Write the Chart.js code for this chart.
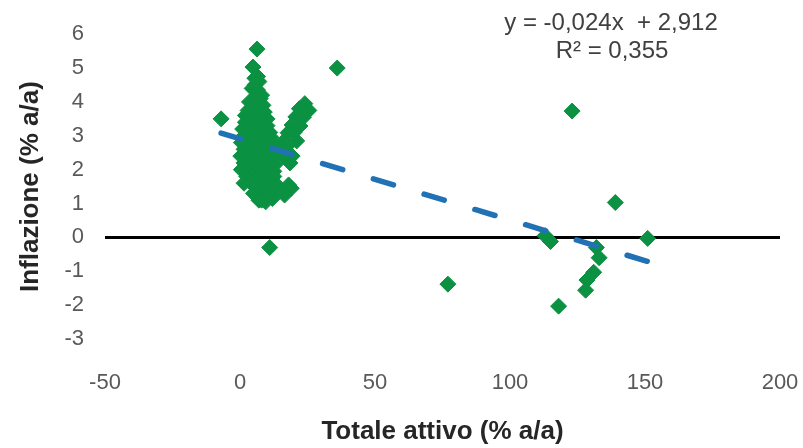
<!DOCTYPE html>
<html lang="it">
<head>
  <meta charset="UTF-8" />
  <title>Inflazione vs Totale attivo</title>
  <style>
    body {
      margin: 0;
      background: #fff;
    }
    .wrap {
      width: 803px;
      height: 448px;
    }
  </style>
</head>
<body>
  <div class="wrap"><canvas id="scatterChart" width="803" height="448"></canvas></div>

  <script src="https://cdn.jsdelivr.net/npm/chart.js"></script>
  <script>
    // Totale attivo (% a/a) -> x, Inflazione (% a/a) -> y
    const attivo = [
      // outliers
      -7, 36, 11, 123, 139, 151, 77, 118, 113, 115, 132, 133, 131, 128.5, 128,
      // cluster body
      6.3, 4.8, 6.5, 5.5, 7,
      4.5, 6.5, 8, 5.5,
      3.5, 5, 6.5, 8.5, 4, 7.5,
      2, 4, 6, 8, 10, 3, 5, 7, 9,
      1, 3, 5, 7, 9, 11, 2, 4, 6, 8, 10,
      0.5, 2.5, 4.5, 6.5, 8.5, 10.5, 12.5, 1.5, 3.5, 5.5, 7.5, 9.5, 11.5,
      0.3, 2.5, 4.5, 6.5, 8.5, 10.5, 12.5, 14, 1.5, 3.5, 5.5, 7.5, 9.5, 11.5, 13.5,
      0.5, 2.5, 4.5, 6.5, 8.5, 10.5, 12.5, 1.5, 3.5, 5.5, 7.5, 9.5, 11.5, 13,
      1.5, 3.5, 5.5, 7.5, 9.5, 11.5, 13, 2.5, 4.5, 6.5, 8.5, 10.5, 12.5,
      5, 7, 9, 11, 6, 8, 10, 12.5,
      7, 9.5, 12, 8,
      16.5, 19, 18, 15,
      // right arm
      24, 25.5, 22, 20.7, 19.3, 17.8, 16.3, 14.8, 22.2, 21, 19.3, 18.5, 23.5, 20, 17.5, 16
    ];
    const inflazione = [
      3.5, 5.0, -0.3, 3.73, 1.03, -0.03, -1.38, -2.03, 0.05, -0.12, -0.3, -0.6, -1.03, -1.26, -1.56,
      5.56, 5.03, 4.75, 4.7, 4.6,
      4.4, 4.35, 4.2, 4.5,
      4.0, 4.05, 3.95, 3.9, 3.8, 4.1,
      3.6, 3.65, 3.55, 3.6, 3.5, 3.75, 3.8, 3.7, 3.7,
      3.2, 3.25, 3.1, 3.2, 3.15, 3.1, 3.4, 3.45, 3.35, 3.4, 3.3,
      2.8, 2.85, 2.75, 2.8, 2.7, 2.8, 2.7, 3.0, 3.0, 2.95, 3.0, 2.95, 2.95,
      2.4, 2.45, 2.35, 2.4, 2.3, 2.4, 2.35, 2.5, 2.6, 2.6, 2.55, 2.6, 2.55, 2.6, 2.6,
      2.0, 2.05, 1.95, 2.0, 1.9, 2.0, 1.95, 2.2, 2.2, 2.15, 2.2, 2.15, 2.2, 2.15,
      1.6, 1.65, 1.55, 1.6, 1.5, 1.6, 1.6, 1.8, 1.8, 1.75, 1.8, 1.75, 1.8,
      1.3, 1.25, 1.3, 1.2, 1.45, 1.4, 1.4, 1.35,
      1.1, 1.05, 1.15, 1.1,
      1.25, 1.45, 1.55, 1.4,
      3.95, 3.75, 3.8, 3.56, 3.32, 3.09, 2.85, 2.6, 3.29, 2.85, 2.4, 2.2, 3.55, 3.1, 2.7, 2.4
    ];

    // linear trend y = -0,024x + 2,912, from min to max x
    const trendX = [-7, 151];
    const trendY = [3.08, -0.71];

    const xTicks = [-50, 0, 50, 100, 150, 200];
    const yTicks = [-3, -2, -1, 0, 1, 2, 3, 4, 5, 6];

    const points = attivo.map((x, i) => ({ x: x, y: inflazione[i] }));
    const trend = trendX.map((x, i) => ({ x: x, y: trendY[i] }));
    const zeroLine = [{ x: xTicks[0], y: 0 }, { x: xTicks[xTicks.length - 1], y: 0 }];

    const equationLabel = {
      id: 'equationLabel',
      afterDraw(chart) {
        const ctx = chart.ctx;
        ctx.save();
        ctx.fillStyle = '#404040';
        ctx.font = '24px "Liberation Sans", Arial, sans-serif';
        ctx.textAlign = 'center';
        ctx.textBaseline = 'middle';
        ctx.fillText('y = -0,024x  + 2,912', 611, 23);
        ctx.fillText('R² = 0,355', 612, 51);
        ctx.restore();
      }
    };

    const ctx = document.getElementById('scatterChart').getContext('2d');
    new Chart(ctx, {
      type: 'scatter',
      data: {
        datasets: [
          {
            label: 'Lineare',
            type: 'line',
            data: trend,
            borderColor: '#2171b5',
            borderWidth: 5.5,
            borderDash: [21, 32],
            borderCapStyle: 'round',
            pointRadius: 0,
            fill: false,
            order: 0
          },
          {
            label: 'Dati',
            data: points,
            pointStyle: 'rectRot',
            pointRadius: 8,
            backgroundColor: '#0b9142',
            borderColor: '#0b9142',
            borderWidth: 1,
            order: 1
          },
          {
            label: 'zero',
            type: 'line',
            data: zeroLine,
            borderColor: '#000',
            borderWidth: 3,
            pointRadius: 0,
            fill: false,
            order: 2
          }
        ]
      },
      options: {
        responsive: false,
        animation: false,
        layout: {
          padding: { top: 33, right: 23, bottom: 0, left: 0 }
        },
        plugins: {
          legend: { display: false },
          tooltip: { enabled: false }
        },
        scales: {
          x: {
            type: 'linear',
            min: -50,
            max: 200,
            afterBuildTicks: (scale) => { scale.ticks = xTicks.map(v => ({ value: v })); },
            afterFit: (scale) => {
              scale.height = 109;
              scale.paddingLeft = 0;
              scale.paddingRight = 0;
            },
            grid: { display: false, drawTicks: false },
            border: { display: false },
            ticks: {
              padding: 31,
              color: '#595959',
              font: { family: '"Liberation Sans", Arial, sans-serif', size: 22 }
            },
            title: {
              display: true,
              text: 'Totale attivo (% a/a)',
              color: '#262626',
              padding: { top: 0, bottom: 1 },
              font: { family: '"Liberation Sans", Arial, sans-serif', size: 26, weight: 'bold' }
            }
          },
          y: {
            min: -3,
            max: 6,
            afterBuildTicks: (scale) => { scale.ticks = yTicks.map(v => ({ value: v })); },
            afterFit: (scale) => { scale.width = 105; },
            grid: { display: false, drawTicks: false },
            border: { display: false },
            ticks: {
              padding: 21,
              color: '#595959',
              font: { family: '"Liberation Sans", Arial, sans-serif', size: 22 }
            },
            title: {
              display: true,
              text: 'Inflazione (% a/a)',
              color: '#262626',
              padding: { top: 15, bottom: 15 },
              font: { family: '"Liberation Sans", Arial, sans-serif', size: 26, weight: 'bold' }
            }
          }
        }
      },
      plugins: [equationLabel]
    });
  </script>
</body>
</html>
